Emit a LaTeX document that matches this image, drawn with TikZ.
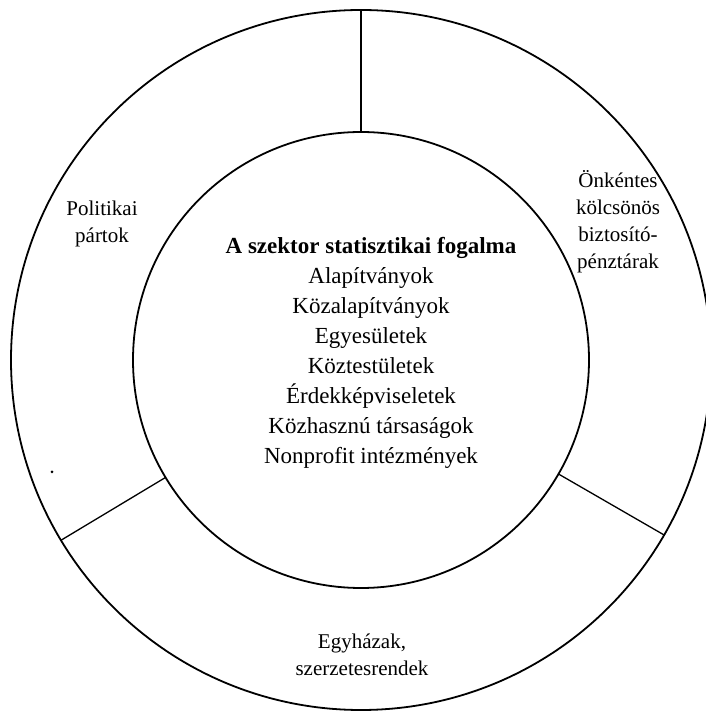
\documentclass[tikz,border=0pt]{standalone}
\usepackage{fontspec}
\setmainfont{Liberation Serif}
\begin{document}
\begin{tikzpicture}[x=1pt,y=1pt,
  ring/.style={circle, draw, line width=1.8pt, inner sep=0pt, outer sep=0pt},
  divider/.style={line width=1.3pt},
  lbl/.style={align=center, font=\fontsize{21}{27}\selectfont, inner sep=0pt},
  core/.style={align=center, font=\fontsize{23}{30}\selectfont, inner sep=0pt}]
\useasboundingbox (0,0) rectangle (706,715);
\fill[white] (0,0) rectangle (706,715);
\node[ring, minimum size=700pt] (outer) at (361,355) {};
\node[ring, minimum size=456pt] (inner) at (361,355) {};
\draw[divider] (inner.90) -- (outer.90);
\draw[divider] (inner.211) -- (outer.211);
\draw[divider] (inner.-30.5) -- (outer.-30.5);
\node[core] (core) at (371,362) {\textbf{A szektor statisztikai fogalma}\\Alapítványok\\Közalapítványok\\Egyesületek\\Köztestületek\\Érdekképviseletek\\Közhasznú társaságok\\Nonprofit intézmények};
\node[lbl] (party) at (102,491.5) {Politikai\\pártok};
\node[lbl] (fund) at (618,493) {Önkéntes\\kölcsönös\\biztosító-\\pénztárak};
\node[lbl] (church) at (362,60.5) {Egyházak,\\szerzetesrendek};
\node[circle, fill, inner sep=0pt, minimum size=3pt] (speck) at (52,243) {};
\end{tikzpicture}
\end{document}
